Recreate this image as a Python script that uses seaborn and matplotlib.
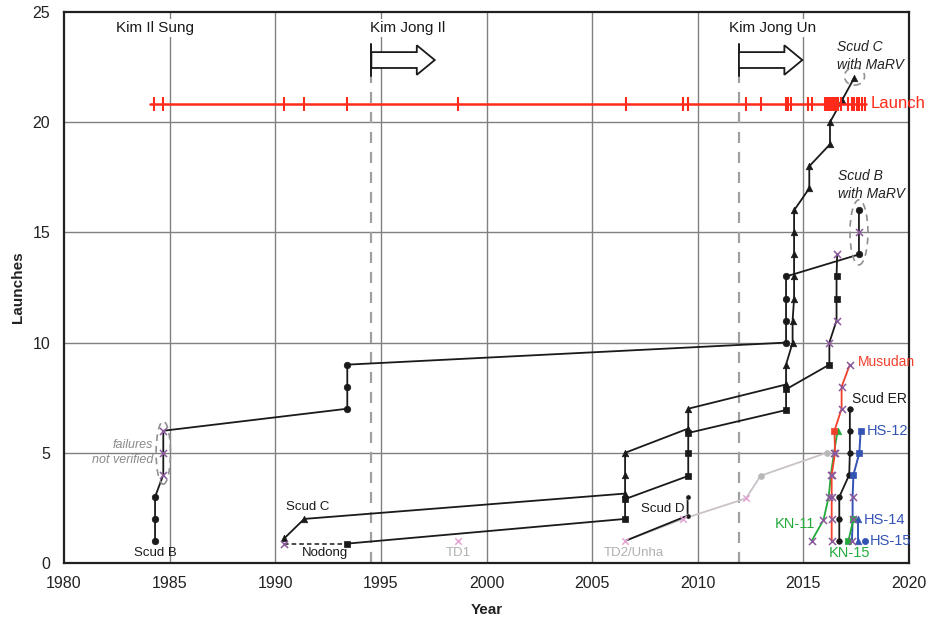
import matplotlib
matplotlib.use("Agg")
import matplotlib.pyplot as plt
import seaborn as sns
from matplotlib.patches import Ellipse, FancyArrow

# ---------------- data ----------------
# Scud B (1 = success/verified, 0 = failure / not verified)
scud_b_year = [1984.31, 1984.31, 1984.31, 1984.7, 1984.7, 1984.7, 1993.41, 1993.41, 1993.41,
               2014.18, 2014.18, 2014.18, 2014.18, 2017.63, 2017.63, 2017.63]
scud_b_val = [1, 2, 3, 4, 5, 6, 7, 8, 9, 10, 11, 12, 13, 14, 15, 16]
scud_b_ok = [1, 1, 1, 0, 0, 0, 1, 1, 1, 1, 1, 1, 1, 1, 0, 1]

# Scud C
scud_c_year = [1990.43, 1991.37, 2006.56, 2006.56, 2006.56, 2009.55, 2009.55, 2014.18, 2014.18,
               2014.49, 2014.49, 2014.56, 2014.56, 2014.56, 2014.56, 2014.56, 2015.28, 2015.28,
               2016.26, 2016.26, 2016.83, 2017.4]
scud_c_val = [1.12, 2, 3.15, 4, 5, 6.1, 7, 8.1, 9, 10, 11, 12, 13, 14, 15, 16, 17, 18, 19, 20, 21, 22]
scud_c_ok = [1] * 22

# Nodong (first launch unverified, dashed link)
nodong_year = [1990.43, 1993.41, 2006.56, 2006.56, 2009.55, 2009.55, 2009.55, 2014.18, 2014.18,
               2016.23, 2016.23, 2016.57, 2016.57, 2016.57, 2016.6]
nodong_val = [0.88, 0.88, 2, 2.9, 3.95, 4.98, 5.9, 6.94, 7.88, 9, 10, 11, 12, 13, 14]
nodong_ok = [0, 1, 1, 1, 1, 1, 1, 1, 1, 1, 0, 0, 1, 1, 0]

# Scud D
scud_d_year = [2006.56, 2009.52, 2009.52]
scud_d_val = [1, 2.15, 3]

# TD1 and TD2/Unha
td1_year = [1998.64]
td1_val = [1]
td2_year = [2006.56, 2009.3, 2012.28, 2012.98, 2016.1]
td2_val = [1, 2, 2.93, 3.96, 5]
td2_ok = [0, 0, 0, 1, 1]

# Musudan
musudan_year = [2016.34, 2016.34, 2016.34, 2016.34, 2016.5, 2016.47, 2016.81, 2016.81, 2017.2]
musudan_val = [1, 2, 3, 4, 5, 6, 7, 8, 9]
musudan_ok = [0, 0, 0, 0, 0, 1, 0, 0, 0]

# KN-11
kn11_year = [2015.39, 2015.95, 2016.2, 2016.3, 2016.45, 2016.62]
kn11_val = [1, 1.95, 3, 4, 5, 6]
kn11_ok = [0, 0, 0, 0, 0, 1]

# Scud ER
scud_er_year = [2016.7, 2016.7, 2016.7, 2017.17, 2017.2, 2017.2, 2017.2]
scud_er_val = [1, 2, 3, 4, 5, 6, 7]

# HS-12
hs12_year = [2017.3, 2017.33, 2017.33, 2017.37, 2017.65, 2017.71]
hs12_val = [1, 2, 3, 4, 5, 6]
hs12_ok = [0, 0, 0, 1, 1, 1]

# KN-15
kn15_year = [2017.13, 2017.37]
kn15_val = [1, 2]

# HS-14 and HS-15
hs14_year = [2017.6, 2017.6]
hs14_val = [1, 2]
hs15_year = [2017.92]
hs15_val = [1]

# All launch dates (Launch rug)
launch_years = [1984.26, 1984.7, 1990.43, 1991.37, 1993.38, 1998.64, 2006.59, 2009.32, 2009.52,
                2012.28, 2012.98, 2014.18, 2014.29, 2014.4, 2015.23, 2015.39,
                2016.03, 2016.13, 2016.23, 2016.29, 2016.37, 2016.45, 2016.55, 2016.66, 2016.77,
                2017.13, 2017.29, 2017.4, 2017.52, 2017.65, 2017.76, 2017.92]

# leadership changes
kim_jong_il_start = 1994.55
kim_jong_un_start = 2011.95

x_ticks = [1980, 1985, 1990, 1995, 2000, 2005, 2010, 2015, 2020]
y_ticks = [0, 5, 10, 15, 20, 25]

# ---------------- style ----------------
sns.set_theme(style="white")
plt.rcParams['font.family'] = ['Liberation Sans', 'DejaVu Sans']

BLACK = '#1a1a1a'
FAIL = '#8a5a9a'
PINK = '#e2a6d6'
RED = '#ff2a1a'
MRED = '#f0402c'
BLUE = '#3454b4'
GREEN = '#22aa3a'
GRID = '#808080'
DASH = '#a0a0a0'

fig = plt.figure(figsize=(9.29, 6.21), dpi=100)
ax = fig.add_axes([64 / 929, 1 - 563 / 621, (909 - 64) / 929, (563 - 12) / 621])
ax.set_xlim(1980, 2020)
ax.set_ylim(0, 25)

# grid
for xv in x_ticks[1:-1]:
    ax.axvline(xv, color=GRID, lw=1.0, zorder=0.5)
for yv in y_ticks[1:-1]:
    ax.axhline(yv, color=GRID, lw=1.0, zorder=0.5)

for sp in ax.spines.values():
    sp.set_color('#202020')
    sp.set_linewidth(1.6)

ax.set_xticks(x_ticks)
ax.set_yticks(y_ticks)
ax.tick_params(axis='both', length=0, labelsize=11.5, colors='#222222')
ax.tick_params(axis='x', pad=9)
ax.tick_params(axis='y', pad=10)
ax.set_xlabel('Year', fontsize=11, fontweight='bold', labelpad=9, color='#222222')
ax.set_ylabel('Launches', fontsize=11, fontweight='bold', labelpad=5, color='#222222')


def line(xs, ys, color, lw=1.3, ls='-', z=2):
    sns.lineplot(x=xs, y=ys, sort=False, estimator=None, color=color, linewidth=lw,
                 linestyle=ls, ax=ax, legend=False, zorder=z)


def marks(xs, ys, flags, marker, color, s=22, fail_color=FAIL, fail_s=26, z=3):
    okx = [x for x, f in zip(xs, flags) if f == 1]
    oky = [y for y, f in zip(ys, flags) if f == 1]
    fx = [x for x, f in zip(xs, flags) if f == 0]
    fy = [y for y, f in zip(ys, flags) if f == 0]
    if okx:
        sns.scatterplot(x=okx, y=oky, marker=marker, s=s, color=color, edgecolor=color,
                        linewidth=0.5, ax=ax, legend=False, zorder=z)
    if fx:
        sns.scatterplot(x=fx, y=fy, marker='x', s=fail_s, color=fail_color, linewidth=1.1,
                        ax=ax, legend=False, zorder=z + 0.1)


# leader dashed lines and arrows
for x0 in (kim_jong_il_start, kim_jong_un_start):
    ax.plot([x0, x0], [0, 22.1], color=DASH, lw=1.6, ls=(0, (5, 4)), zorder=1)
    ax.plot([x0, x0], [22.1, 23.55], color=BLACK, lw=1.4, zorder=4)
    arr = FancyArrow(x0, 22.82, 3.0, 0, width=0.72, head_width=1.34, head_length=0.85,
                     length_includes_head=True, facecolor='white', edgecolor=BLACK,
                     linewidth=1.3, zorder=4)
    ax.add_patch(arr)

# Launch rug
ax.plot([launch_years[0] - 0.2, launch_years[-1] + 0.05], [20.83, 20.83], color=RED, lw=1.8, zorder=5)
sns.scatterplot(x=launch_years, y=[20.83] * len(launch_years), marker='|', s=90, color=RED,
                linewidth=1.5, ax=ax, legend=False, zorder=5)

# TD1, TD2/Unha
sns.scatterplot(x=td1_year, y=td1_val, marker='x', s=22, color=PINK, linewidth=1.1, ax=ax,
                legend=False, zorder=3)
line(td2_year, td2_val, '#c9c2c9', lw=1.3, z=1.8)
marks(td2_year, td2_val, td2_ok, 'o', '#b8b8b8', s=18, fail_color=PINK, fail_s=22)

# Scud D
line(scud_d_year, scud_d_val, BLACK, z=2)
sns.scatterplot(x=scud_d_year[1:], y=scud_d_val[1:], marker='o', s=14, color=BLACK, ax=ax,
                legend=False, zorder=3)

# Scud B
line(scud_b_year, scud_b_val, BLACK)
marks(scud_b_year, scud_b_val, scud_b_ok, 'o', BLACK)

# Scud C
line(scud_c_year, scud_c_val, BLACK)
marks(scud_c_year, scud_c_val, scud_c_ok, '^', BLACK, s=22)

# Nodong
line(nodong_year[:2], nodong_val[:2], BLACK, lw=1.1, ls=(0, (3, 2)))
line(nodong_year[1:], nodong_val[1:], BLACK)
marks(nodong_year, nodong_val, nodong_ok, 's', BLACK, s=22)

# KN-11, Musudan
line(kn11_year, kn11_val, GREEN)
marks(kn11_year, kn11_val, kn11_ok, '^', GREEN)
line(musudan_year, musudan_val, MRED)
marks(musudan_year, musudan_val, musudan_ok, 's', MRED)

# Scud ER
line(scud_er_year, scud_er_val, BLACK)
marks(scud_er_year, scud_er_val, [1] * 7, 'o', BLACK, s=16)

# HS-12
line(hs12_year, hs12_val, BLUE, lw=1.4)
marks(hs12_year, hs12_val, hs12_ok, 's', BLUE, s=24)

# KN-15
line(kn15_year, kn15_val, GREEN)
marks(kn15_year, kn15_val, [1, 1], 's', GREEN, s=18)

# HS-14, HS-15
line(hs14_year, hs14_val, BLUE, lw=1.4)
marks(hs14_year, hs14_val, [1, 1], '^', BLUE, s=22)
marks(hs15_year, hs15_val, [1], 'o', BLUE, s=20)

# dashed ellipses
ax.add_patch(Ellipse((1984.7, 5.0), 0.68, 2.85, fill=False, edgecolor='#909090', lw=1.2,
                     ls=(0, (4, 3)), zorder=3))
ax.add_patch(Ellipse((2017.63, 15.0), 0.85, 2.95, fill=False, edgecolor='#909090', lw=1.2,
                     ls=(0, (4, 3)), zorder=3))
ax.add_patch(Ellipse((2017.42, 22.08), 0.95, 0.8, fill=False, edgecolor='#909090', lw=1.2,
                     ls=(0, (4, 3)), zorder=3))

# texts
wb = dict(facecolor='white', edgecolor='none', pad=1.5)
ax.text(1984.31, 24.27, 'Kim Il Sung', ha='center', va='center', fontsize=11, color=BLACK, bbox=wb, zorder=6)
ax.text(1996.28, 24.27, 'Kim Jong Il', ha='center', va='center', fontsize=11, color=BLACK, bbox=wb, zorder=6)
ax.text(2013.52, 24.27, 'Kim Jong Un', ha='center', va='center', fontsize=11, color=BLACK, bbox=wb, zorder=6)

lab = dict(fontsize=9.5, va='center', zorder=6)
ax.text(1984.31, 0.45, 'Scud B', ha='center', color=BLACK, **lab)
ax.text(1991.55, 2.54, 'Scud C', ha='center', color=BLACK, **lab)
ax.text(1992.36, 0.45, 'Nodong', ha='center', color=BLACK, **lab)
ax.text(1998.65, 0.45, 'TD1', ha='center', color='#b0b0b0', **lab)
ax.text(2006.98, 0.45, 'TD2/Unha', ha='center', color='#b0b0b0', **lab)
ax.text(2008.36, 2.45, 'Scud D', ha='center', color=BLACK, **lab)
ax.text(2017.59, 9.12, 'Musudan', ha='left', color=MRED, fontsize=10, va='center', zorder=6)
ax.text(2017.3, 7.44, 'Scud ER', ha='left', color=BLACK, fontsize=10, va='center', zorder=6)
ax.text(2018.01, 5.99, 'HS-12', ha='left', color=BLUE, fontsize=10.5, va='center', zorder=6)
ax.text(2017.87, 1.95, 'HS-14', ha='left', color=BLUE, fontsize=10.5, va='center', zorder=6)
ax.text(2018.15, 1.0, 'HS-15', ha='left', color=BLUE, fontsize=10.5, va='center', zorder=6)
ax.text(2015.55, 1.77, 'KN-11', ha='right', color=GREEN, fontsize=10.5, va='center', zorder=6)
ax.text(2017.2, 0.45, 'KN-15', ha='center', color=GREEN, fontsize=10.5, va='center', zorder=6)
ax.text(2018.2, 20.83, 'Launch', ha='left', va='center', color=RED, fontsize=12, zorder=6)

ax.text(1984.21, 5.0, 'failures\nnot verified', ha='right', va='center', multialignment='right',
        color='#8a8a8a', fontsize=9, style='italic', linespacing=1.3, zorder=6)
ax.text(2016.59, 23.0, 'Scud C\nwith MaRV', ha='left', va='center', color='#222222',
        fontsize=10, style='italic', linespacing=1.3, zorder=6)
ax.text(2016.64, 17.15, 'Scud B\nwith MaRV', ha='left', va='center', color='#222222',
        fontsize=10, style='italic', linespacing=1.3, zorder=6)

fig.savefig('out.png', dpi=100)
